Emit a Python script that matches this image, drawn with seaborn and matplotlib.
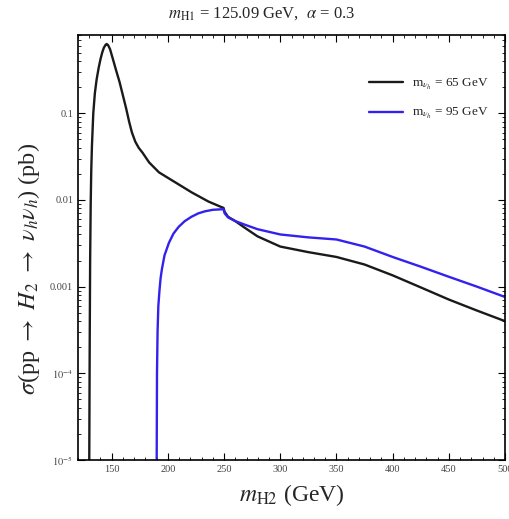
import numpy as np
import pandas as pd
import matplotlib
matplotlib.use("Agg")
import matplotlib.pyplot as plt
from matplotlib.ticker import FixedLocator, MultipleLocator, NullFormatter, LogLocator
import seaborn as sns

# ---- data ----
m_black = [130.0, 130.4, 130.8, 131.3, 131.8, 132.4, 133.6, 135.0, 136.6, 138.5, 140.0, 141.5, 143.0,
           144.5, 145.5, 146.8, 148.5, 151.1, 154.0, 157.0, 160.0, 162.9, 165.5, 168.0, 171.0,
           174.0, 177.5, 183.3, 192.1, 206.8, 221.3, 236.0, 247.4, 249.5, 250.5, 253.5, 260.0,
           268.2, 279.8, 300.0, 325.0, 350.0, 375.0, 400.0, 425.0, 450.0, 475.0, 500.0]
s_black = [8e-6, 2e-4, 2e-3, 9e-3, 0.022, 0.042, 0.100, 0.17, 0.247, 0.34, 0.42, 0.50, 0.57,
           0.615, 0.63, 0.61, 0.55, 0.42, 0.31, 0.229, 0.160, 0.113, 0.080, 0.060, 0.047,
           0.040, 0.0350, 0.0271, 0.0208, 0.0159, 0.0122, 0.0096, 0.0083, 0.0081, 0.0073, 0.0064, 0.0057,
           0.0048, 0.0038, 0.0029, 0.0025, 0.0022, 0.0018, 0.00135, 0.00098, 0.00071, 0.00053, 0.00040]

m_blue = [190.0, 190.3, 190.8, 191.5, 192.5, 193.5, 194.7, 197.0, 200.9, 205.0, 209.6, 215.0,
          221.0, 227.0, 233.0, 240.0, 247.4, 249.5, 250.5, 253.5, 260.0, 268.2, 279.8, 300.0,
          325.0, 350.0, 375.0, 400.0, 425.0, 450.0, 475.0, 500.0]
s_blue = [8e-6, 1e-4, 3e-4, 6e-4, 9e-4, 1.25e-3, 1.6e-3, 2.3e-3, 3.2e-3, 4.1e-3, 4.9e-3, 5.7e-3,
          6.4e-3, 7.0e-3, 7.4e-3, 7.7e-3, 7.8e-3, 7.8e-3, 7.0e-3, 6.3e-3, 5.7e-3, 5.2e-3, 4.6e-3, 4.0e-3,
          3.7e-3, 3.5e-3, 2.9e-3, 2.2e-3, 1.7e-3, 1.3e-3, 1.0e-3, 7.6e-4]

labels = [r"m$_{\nu_h}$ = 65 GeV", r"m$_{\nu_h}$ = 95 GeV"]
colors = ["#1a1a1a", "#3322ee"]

yticks = [1e-5, 1e-4, 1e-3, 1e-2, 1e-1]
ytick_labels = [r"$10^{-5}$", r"$10^{-4}$", "0.001", "0.01", "0.1"]
xticks = [150, 200, 250, 300, 350, 400, 450, 500]

df = pd.concat([
    pd.DataFrame({"m": m_black, "sigma": s_black, "series": labels[0]}),
    pd.DataFrame({"m": m_blue, "sigma": s_blue, "series": labels[1]}),
])

sns.set_style("ticks")
plt.rcParams["font.family"] = ["Liberation Serif", "DejaVu Serif"]
plt.rcParams["mathtext.fontset"] = "stix"

fig = plt.figure(figsize=(5.09, 5.19), dpi=100)
ax = fig.add_axes([78 / 509, 1 - 460 / 519, (505 - 78) / 509, (460 - 35) / 519])

sns.lineplot(data=df, x="m", y="sigma", hue="series", palette=colors, sort=False,
             estimator=None, linewidth=1.7, ax=ax)

ax.set_yscale("log")
ax.set_xlim(120, 500)
ax.set_ylim(1e-5, 0.8)

ax.yaxis.set_major_locator(FixedLocator(yticks))
ax.set_yticklabels(ytick_labels)
ax.yaxis.set_minor_locator(LogLocator(base=10, subs=np.arange(2, 10)))
ax.yaxis.set_minor_formatter(NullFormatter())
ax.set_xticks(xticks)
ax.set_xticklabels([str(v) for v in xticks])
ax.xaxis.set_minor_locator(MultipleLocator(10))

ax.tick_params(which="both", direction="in", top=True, right=True, labelsize=7.5, colors="black",
               labelcolor="#444444")
ax.tick_params(which="major", length=5, width=0.8)
ax.tick_params(which="minor", length=2.5, width=0.6)
for sp in ax.spines.values():
    sp.set_linewidth(1.2)
    sp.set_color("black")

ax.set_xlabel(r"$m_{\mathrm{H2}}$ (GeV)", fontsize=17, labelpad=6)
ax.set_ylabel(r"$\sigma$(pp $\rightarrow$ $H_2$ $\rightarrow$ $\nu_h\nu_h$) (pb)", fontsize=17.5)
ax.yaxis.set_label_coords(-0.085, 0.45)
fig.text(262 / 509, 1 - 14 / 519, r"$m_{\mathrm{H1}}$ = 125.09 GeV,  $\alpha$ = 0.3",
         fontsize=12, ha="center", va="center")

leg = ax.legend(loc="upper right", bbox_to_anchor=(0.99, 0.93), frameon=False, fontsize=9.5,
                handlelength=2.6, handletextpad=0.7, labelspacing=1.1, title=None)
for line in leg.get_lines():
    line.set_linewidth(1.7)

fig.savefig("out.png", dpi=100, facecolor="white")
